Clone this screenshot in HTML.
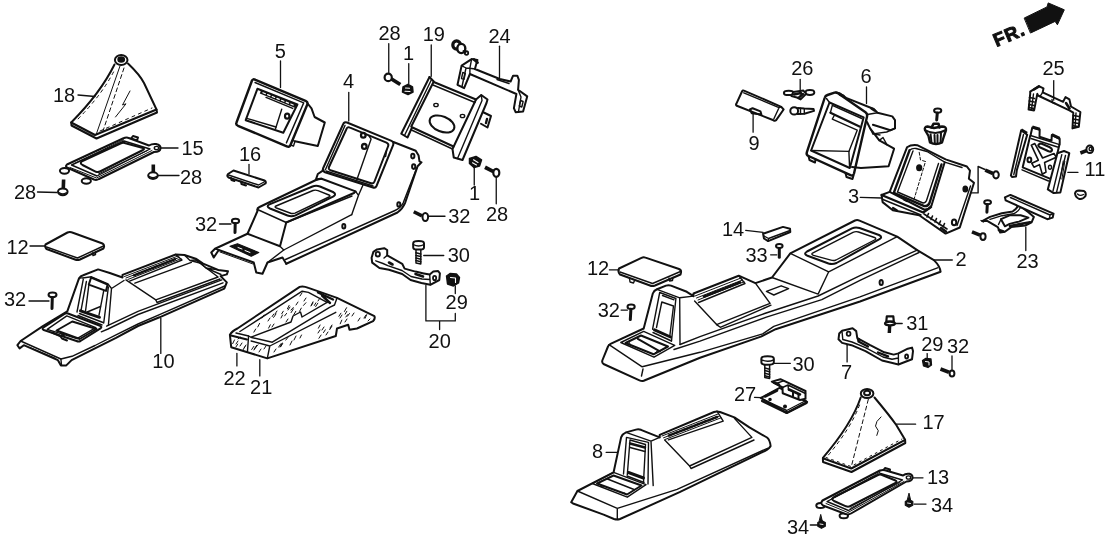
<!DOCTYPE html>
<html><head><meta charset="utf-8">
<style>
html,body{margin:0;padding:0;background:#fff;}
body{width:1108px;height:542px;overflow:hidden;position:relative;font-family:"Liberation Sans",sans-serif;}
svg{position:absolute;left:0;top:0;will-change:transform;}
svg text{font-family:"Liberation Sans",sans-serif;font-size:20px;fill:#111;stroke:none;}
.t{stroke-width:2}
.h{stroke-width:1}
.k{fill:#111}
.w{fill:#fff}
</style></head><body>
<svg width="1108" height="542" viewBox="0 0 1108 542" fill="none" stroke="#111" stroke-width="1.4" stroke-linecap="round" stroke-linejoin="round">
<!-- boot 18 -->
<g id="p18">
<ellipse cx="121.2" cy="60" rx="6.3" ry="5" class="t"/>
<ellipse cx="121.2" cy="59.5" rx="3.2" ry="2.5" class="k"/>
<path class="t" d="M114.5,64.5 Q100.5,93 71.2,122.5"/>
<path class="t" d="M128,63.5 Q140,75 144,83 L156.5,109.5"/>
<path class="t" d="M71.2,122.5 L95,135 L156.5,109.5 L157,112.5 L96.5,138.5 L71.5,125.5 Z"/>
<path class="h" d="M120,66 L96,135"/>
<path class="h" stroke-dasharray="4 3" d="M124,68 L103,131"/>
<path class="h" stroke-dasharray="3 4" d="M113.5,72 Q101,96 76.5,120.5"/>
<path class="h" stroke-dasharray="3 4" d="M100,131 L152,108"/>
<path class="h" d="M130,91 L122.5,105 L126,103.8 L115.5,117"/>
</g>
<!-- frame 15 -->
<g id="p15">
<ellipse cx="64.5" cy="170.8" rx="4.6" ry="2.9" class="t"/>
<ellipse cx="86.3" cy="181" rx="4.6" ry="2.7" class="t"/>
<path class="t w" d="M131,138.5 L133,136 L138,137.5 L137,140.5 Z"/>
<path class="t w" d="M67,164.5 L124,138 Q126,137 128,137.8 L149,145.5 Q152,143.5 156,144 Q161,145 160.5,148.5 Q160,152 154,152 L99,179 Q96.5,180.5 94,179.5 L68,168 Q64.5,166.5 67,164.5 Z"/>
<path d="M71.5,165 L124,141 L150,149 L97,176 Z"/>
<path class="h" d="M75.5,163 L123.5,139.8 M98.5,174 L147.5,150.5 M70,167.5 L96.5,178 L152,150.5"/>
<path class="t" d="M82.5,161 L121,143.3 Q122.5,142.5 124.5,143 L143,148 Q145,148.8 143,150 L100,171.5 Q98,172.5 96,171.8 L82.5,165 Q79,163 82.5,161 Z"/>
<ellipse cx="156.5" cy="148" rx="2.2" ry="1.6"/>
</g>
<!-- bolts 28 near 15 -->
<g id="b28a">
<path stroke-width="3.6" stroke-linecap="butt" d="M153.3,164.5 L153.3,173"/>
<ellipse cx="153" cy="175.6" rx="4.8" ry="3.3" class="t w"/>
<path d="M149.5,176.5 Q153,179 156.5,176.5"/>
<path stroke-width="3.6" stroke-linecap="butt" d="M63.6,179.5 L63.3,189"/>
<ellipse cx="62.8" cy="191.8" rx="4.8" ry="3.4" class="t w"/>
<path d="M59.3,192.8 Q62.8,195.3 66.3,192.8"/>
</g>
<!-- part 16 -->
<g id="p16">
<path class="t" d="M233.5,170.5 L264.5,180.5 Q266.5,181.5 265.5,183.5 L258.5,187.5 L228.5,177.5 Q226.5,176 228,174 Z"/>
<path d="M228.5,175 L258.5,185 L265,181.5"/>
<path class="t" d="M231,178 L231.5,180 L234.5,181 M241,181.5 L241.5,184 L246,185.5"/>
</g>
<!-- screw 32 mid-left -->
<g id="s32a">
<ellipse cx="235.5" cy="221" rx="3.6" ry="2.3" class="t"/>
<path stroke-width="3" d="M235.2,223.5 L235,232.5"/>
</g>
<!-- lid 12 left -->
<g id="p12a">
<path class="t" d="M45.5,244.5 L67.5,232.5 Q69.5,231.5 71.5,232.3 L102.5,243.5 Q104.5,244.5 104,247 L103.5,248.5 L80,259.5 Q77.5,260.5 75,259.5 L46.5,249 Q44.5,247 45.5,244.5 Z"/>
<path d="M46.5,247 L77.5,258 L103.5,246"/>
<path d="M92.5,253 L93,255.5 L95.5,254.5 L95.5,252"/>
</g>
<!-- screw 32 left -->
<g id="s32b">
<ellipse cx="52.5" cy="294.8" rx="4" ry="2.4" class="t"/>
<path stroke-width="3" d="M52.3,297.5 L52,308.5"/>
</g>
<!-- console 10 -->
<g id="p10">
<!-- silhouette -->
<path class="t" d="M17.4,345.2 L20.6,341 L42.9,326.1 L67.3,311.3 L79,278.3 Q80.5,276 83.2,275.2 L98.1,269.4 L109.8,273 L122.5,277.5 L122.5,274.9 L175.7,254.5 L184.4,255 L195.7,258.7 L203.1,263.7 L218.1,269.9 L228,271.2 L226.8,274.4 L220.6,276.1 L226.8,282.4 L224.3,288.6 L159.5,317.3 L138,326 L116,337.8 L95,348.4 L71.6,360.1 L66.3,365.4 L60.9,365.4 L57.8,360.1 L23.8,345.2 L19.6,348.4 Z"/>
<!-- skirt lines -->
<path d="M20.6,341 L60.9,359 L72,356.3 L95,345.5 L116,334.8 L138,324 L159.5,314.7 L224.8,286"/>
<path d="M60.9,359 L61.5,365"/>
<path d="M106.6,326.1 L138,311.3 L221.8,279.9"/>
<path d="M101.3,331.8 L108,329 L138,314.5 L223,282.8"/>
<path d="M134.9,283.2 L191.4,262.4"/>
<path class="h" d="M30,347.5 L56,358.5"/>
<!-- tower -->
<path d="M78.6,279.1 Q80,277.6 82.5,278 L91.5,276.8 L108,284 L111.5,288.5 L124,280.5 M111.5,288.5 L108.4,325.3"/>
<path d="M83.3,279.1 L77,312 M86.4,281.5 L80.9,311.2"/>
<path class="t" d="M91.1,277.5 L107.6,284.6 L106,290.9 L88.8,284.6 Z"/>
<path d="M88.8,285.4 L85.6,310.5 M103.7,290.9 L99,315.2 M108.4,286.9 L103.7,323"/>
<path stroke-width="3" d="M80.5,310.8 L99.5,317.3"/>
<path d="M79.5,313.5 L103,322.5 M78,315.5 L102,325"/>
<path d="M87.2,312 L100.5,306.5"/>
<!-- tray -->
<path class="t" d="M43.5,327.5 L64.5,313.8 Q66,312.8 68,313.5 L100,325.8 Q102.5,327 100.5,328.3 L80.5,341 Q78.6,342 76.5,341 L43.8,330 Q41.5,328.8 43.5,327.5 Z"/>
<path d="M47.2,329.3 L66.8,315.9 L95.8,327.7 L77,338.7 Z"/>
<path class="t" d="M56.5,330.5 L72.3,321.5 L96.5,329 L79.8,339 Z"/>
<path stroke-width="2" d="M52,332.5 L60,336 L62,338.5 L67,340.5 M62,334 L64,336"/>
<!-- ridge and lid -->
<path d="M125.9,279.9 L155.8,299.8 L218.1,277 L195.7,260"/>
<path d="M155.8,299.8 L157,302.5 L220,279"/>
<path d="M129.6,281.1 L182,260 L175.7,254.5"/>
<path class="h" d="M124.5,276.5 L178,256 M126,278 L179.5,257.3 M127.8,279.5 L181,258.7"/>
<path stroke-width="2.4" stroke-dasharray="2.2 1.6" d="M134,275.3 L176,258.8"/>
<path d="M184.4,255 L190,260.5 L195.7,260 M190,260.5 L203.1,263.7"/>
<path d="M197,259.5 L206,268 L221,274.5 M206,268 L218.1,269.9"/>
</g>
<!-- part 5 -->
<g id="p5">
<path stroke-width="2.4" d="M252,80.5 Q252.8,78.5 255.5,79.8 L305.5,100.8 Q308.3,102.3 307.3,104.5 L290.5,145 Q289.5,147.5 286.8,146.3 L238,125.8 Q235.5,124.5 236.5,122.5 Z"/>
<path d="M255,82.5 L303.7,102.9 L286.4,142.9"/>
<path class="t" d="M257.4,88.8 L297.4,104.5 L283.3,132.7 L245.7,120.2 Z"/>
<path stroke-width="3.8" stroke-linecap="butt" d="M260.5,91.8 L296,106.3"/>
<path stroke="#fff" stroke-width="1.2" stroke-dasharray="2.6 2.4" d="M263,92.7 L295,105.8"/>
<path d="M266,97.4 L292.7,108.4"/>
<path d="M281.7,109.2 L275.5,128.8"/>
<ellipse cx="287.2" cy="116.2" rx="2.2" ry="2.5" stroke-width="2.2"/>
<path d="M246.7,118.3 L276,127"/>
<path class="t" d="M307.6,103.5 L311.5,108.4 L314.6,117 L324.8,122.5 L317.8,146 L295,141.3"/>
<path d="M290.5,145 L293.5,146 L295,141.3 L292.5,140.3"/>
</g>
<!-- console 4 -->
<g id="p4">
<path class="t" d="M343,124.5 Q344,121.5 347,122.5 L391.5,140.8 Q394.3,142 393.2,144.8 L376.5,186 Q375.5,188.3 373,187.5 L325,172.2 Q322,171 323,168.5 Z"/>
<path class="t" d="M346.5,129 Q347.5,126.5 350,127.6 L386.5,142.6 Q389,143.8 388.2,146 L374.5,181.5 Q373.5,184 371,183.2 L330.5,170.2 Q328,169.3 329,167 Z"/>
<path d="M345,125.5 L325.5,169.5"/>
<path d="M326,171 L373,186"/>
<path d="M369.1,136.2 L371.1,139.1 L356.5,180.8"/>
<path d="M386.6,150.7 L385.6,156.5"/>
<ellipse cx="363.3" cy="135.2" rx="2.3" ry="2.4" stroke-width="2.3"/>
<ellipse cx="364.3" cy="146.4" rx="2.3" ry="2.4" stroke-width="2.3"/>
<!-- right side panel -->
<path class="t" d="M393.4,142 L415.7,150.7 L418.6,155.6 L419.5,161.4 L421.5,162.3 L417.6,166.2 L405,203.1 Q402.5,209 397.5,212.5 L286.25,263.75"/>
<path d="M416.6,168.2 L403.1,203.1 Q400.5,208 395,210.5 L285.5,259.5"/>
<ellipse cx="412.8" cy="156.1" rx="1.6" ry="2.3" class="t"/>
<ellipse cx="413.7" cy="166.6" rx="1.6" ry="2.3" class="t"/>
<ellipse cx="398.8" cy="204.4" rx="1.5" ry="2.2" class="t"/>
<ellipse cx="343.8" cy="226.3" rx="1.5" ry="2.2" class="t"/>
<!-- frame to box -->
<path class="t" d="M323.6,170.1 L317.8,174 L315.8,179.8 L321.6,178.8"/>
<path d="M355.6,191.4 L358.5,195.3 L351.7,214.7 M363,185 L358.5,195.3"/>
<!-- box -->
<path class="t" d="M321.6,178.8 Q319.5,178.3 317,179.5 L259.5,207 Q256.5,208.5 257.5,211 L247.5,233.75 L280,246.25 L286.25,222.5 L354,193 L355.6,191.4 Z"/>
<path d="M257.5,209.5 L286.25,222.5"/>
<path class="t" d="M269.5,204.3 L312.5,186.5 Q316,185.2 320,186.5 L333,192 Q337,194.2 333.5,196.3 L295.5,215.3 Q291.5,217 287.5,215.5 L270,208.5 Q265.5,206.3 269.5,204.3 Z"/>
<path d="M276,206 L313,190.5 Q315.5,189.8 318,190.6 L329,195 Q331,196 329,197 L295,213.2 Q292.5,214 290,213 L276.5,208 Q274,207 276,206 Z"/>
<path d="M351.7,214.7 L283.75,250"/>
<path d="M286.25,222.5 L352,196"/>
<!-- front panel -->
<path class="t" d="M247.5,233.75 L215,248.75 L211.25,252.5 L213.75,257.5 L218.75,250 L253.75,262.5 L256.25,272.5 L262.5,273.75 L267.5,262.5 L282.5,257.5 L286.25,263.75"/>
<path d="M280,246.25 L283.75,250 L267.5,262.5 M215,248.75 L218.75,250"/>
<path class="h" d="M220,252 L253,264"/>
<path class="k" stroke-width="1.2" d="M230,246.25 L237.5,243.75 L258.75,252.5 L251.25,256.25 Z"/>
<path stroke="#fff" stroke-width="1" d="M238,247.5 L242,249 M245,250.5 L250,252.5"/>
</g>
<!-- bracket 19 -->
<g id="p19">
<path class="t" d="M429.5,77 L401.25,133.75 L407.5,137.5 L412,127.5"/>
<path class="t" d="M429.5,77 L433.75,81.5 L411.25,126.5"/>
<path d="M431.5,79.5 L404.5,135.5"/>
<path class="t" d="M433.75,82 L476,99.5"/>
<path d="M433,85 L475,102.5"/>
<path class="t" d="M476,99.5 L481.25,95 L487.5,99.5 L486.5,103 L462.5,160 L453.75,157.5 L452.5,149 Z"/>
<path d="M481.25,95 L482,100.5 L457.5,158.5"/>
<path class="t" d="M412.5,127.5 L453.5,146.5"/>
<path d="M411.5,130 L452.5,149"/>
<ellipse cx="442" cy="124" rx="13" ry="7.6" transform="rotate(22 442 124)" class="t"/>
<ellipse cx="436" cy="105" rx="2.2" ry="1.6"/>
<ellipse cx="462.5" cy="116" rx="2.2" ry="1.6"/>
<path class="t" d="M483.75,112.5 L491,116 L487.5,127.5 L481,123.75"/>
<path stroke-width="2.4" d="M487,119 L486,123"/>
</g>
<!-- bracket 24 -->
<g id="p24">
<path class="t" d="M461.6,65.7 L471.6,59.1 L477.4,59.9 L474.9,69 L499.8,79 L510.6,81.5 L513.1,75.7 L517.3,75.7 L518.9,79.8 L518.1,89.8 L527.2,96.4 L523.1,111.4 L515.6,112.2 L513.9,108.1 L516.4,94 L469.9,74 L464.1,88.1 L457.5,84.8 Z"/>
<path d="M461.6,65.7 L466,68 L469.9,68.2 L471.6,59.1 M466,68 L462,86.5 M518.1,89.8 L521,97 L518.5,111.5 M469.9,74 L469.9,68.2 L474.9,69"/>
<path d="M462.8,72.5 L461.5,78.5 L464,79.3 L465.3,73.3 Z M520.6,100.5 L519.3,106 L521.8,107 L523.1,101.5 Z"/>
<path stroke-width="2.8" d="M474,59.5 L477.5,62.5"/>
<path d="M497,79.5 L509,83.5"/>
</g>
<!-- bolt above 24 -->
<g id="b24">
<ellipse cx="456.6" cy="45" rx="3.8" ry="4.2" stroke-width="3.2" class="w"/>
<ellipse cx="461.3" cy="48.5" rx="4" ry="4.6" stroke-width="2.4" class="w"/>
<ellipse cx="466.5" cy="53" rx="1.7" ry="1.9" stroke-width="1.8"/>
<path stroke-width="2" d="M463.5,51 L465.5,52.3"/>
</g>
<!-- bolt 28 top + clip 1 top -->
<g id="b28t">
<ellipse cx="388.2" cy="77.4" rx="3.6" ry="3.8" stroke-width="2.2"/>
<path stroke-width="3.8" stroke-linecap="butt" d="M391.5,79 L400.3,84.5"/>
<path class="k" stroke-width="1.5" d="M403,87 L408,84.3 L412.5,87 L413,92 L408,94.5 L402.5,92 Z"/>
<path stroke="#fff" stroke-width="1.1" d="M405.5,88 L409.5,88.3 M405,91.3 L410,91.5"/>
</g>
<!-- clip 1 lower + bolt 28 lower -->
<g id="b28l">
<path class="k" stroke-width="1.5" d="M469.5,158.5 L476,156.5 L481.5,160 L479.5,166 L474,167.5 L469.5,163.5 Z"/>
<path stroke="#fff" stroke-width="1.1" d="M473.5,159.8 L478,162.5 M472.5,162.8 L476.5,165"/>
<path stroke-width="3.8" stroke-linecap="butt" d="M485,167.3 L493.5,171.6"/>
<ellipse cx="496.3" cy="172.8" rx="3" ry="4" stroke-width="2.2" class="w"/>
</g>
<!-- screw 32 right of 4 -->
<g id="s32c">
<path stroke-width="3.6" stroke-linecap="butt" d="M413.75,211.75 L422,215.8"/>
<ellipse cx="425.3" cy="217" rx="2.8" ry="4" class="t w"/>
</g>
<!-- bolt 30 left -->
<g id="b30a">
<path class="t w" d="M413.2,243.2 Q413.2,241 418.6,241 Q424,241 424,243.2 L424,247.4 Q424,249.6 418.6,249.6 Q413.2,249.6 413.2,247.4 Z"/>
<path d="M413.2,244.5 Q418.6,247.5 424,244.5"/>
<path stroke-width="1.5" d="M416,250 L416,263 L420.8,263.9 L420.8,250"/>
<path stroke-width="1.5" d="M416,252.8 L420.8,254 M416,255.4 L420.8,256.6 M416,258 L420.8,259.2 M416,260.6 L420.8,261.8"/>
</g>
<!-- bracket 20 -->
<g id="p20">
<path class="t" d="M373.4,251.8 L377,249.4 L384.2,248.2 L387.2,250 L387.2,255.4 L402.2,263.8 L404.6,268.6 L415.4,271.6 L423.8,273.4 L429.7,274.6 L433.3,271.6 L438.1,271 L439.9,273.4 L439.3,280 L430.3,284.8 L421.4,283 L410.6,280 L402.2,274 L389,269.8 L379.4,268 L372.2,262.6 L371.6,257.8 Z"/>
<path d="M375.8,260.8 L383,263.5 L387.8,265.6 L402,270.5 L411,276.5 L422,279 L429.7,279.5 M429.7,274.6 L430.3,284.8"/>
<path d="M384,258 L387.2,255.4"/>
<ellipse cx="377.8" cy="254.2" rx="2.1" ry="2.3" stroke-width="1.8"/>
<ellipse cx="434.6" cy="278" rx="1.6" ry="2.2" stroke-width="1.8"/>
<path stroke-width="2.6" d="M415.5,274 L423,276.5 M389,262.5 L392.5,264.5"/>
</g>
<!-- nut 29 -->
<g id="n29a">
<path class="k" stroke-width="1.4" d="M446.5,276 L450,273.5 L456.5,274 L459.5,277.5 L458.5,283 L453.5,286 L447.5,284 Z"/>
<path stroke="#fff" stroke-width="1.1" d="M450.5,277.5 L455.5,278 L455.5,282.5"/>
</g>
<!-- part 21/22 -->
<g id="p21">
<path class="t" d="M299.7,286.9 Q303,285.5 308.4,287.9 L337,297.9 L374.4,316.1 Q375.5,318.5 373.1,321.1 L357,328.5 L349.5,329.8 L348.2,324.8 L337,328.5 L335.8,336 L267.3,358.4 L247.4,352.2 L231.2,347.2 L229.9,334.8 Q232,331 237.4,328.5 Z"/>
<path d="M239.9,331.5 L302.2,291.2 L308.4,292.4 L327.1,302.4"/>
<path d="M236,333 L248.6,336 L251.5,337.5 L272.3,342.2 L329.6,307.4 L334.5,305 L337,297.9"/>
<path d="M248.6,336 L247.4,352.2 M251.1,341 L269.8,346 L267.3,358.4 M269.8,346 L335.8,312.3"/>
<path d="M251.1,337.2 L291,322 L293,316 L300.5,312 L302,317 L327.1,302.4"/>
<path stroke-width="2.4" d="M318,292.5 L333,299.5 M322,295.5 L330,303"/>
<path stroke-width="2" d="M231,335.5 L247,339.5"/>
<path stroke-width="1" d="M287.5,308.7 l1.6,-3.2 M290.9,310.1 l2.4,-2.6 M314.3,305.5 l1.6,-2.7 M268.6,328.1 l1.7,-3.3 M299.5,311.4 l1.8,-3.3 M303.5,305.4 l2.4,-2.7 M315.7,306.5 l2.1,-3.3 M291.1,312.6 l2.3,-3.7 M311.2,305.2 l1.8,-3.4 M273.6,317.4 l2.4,-3.4 M281.7,313.8 l1.6,-2.6 M257.8,326.9 l1.8,-3.5 M272.1,316.6 l1.6,-2.5 M253.9,332.1 l1.8,-3.1 M284.6,315.9 l2.0,-2.5 M293.8,314.7 l2.0,-3.4 M285.8,340.1 l2.1,-2.7 M340.2,323.8 l1.6,-3.7 M347.5,316.2 l2.0,-2.7 M278.6,347.1 l2.3,-3.4 M318.4,328.2 l1.7,-3.2 M329.7,329.6 l2.2,-3.4 M280.7,346.8 l2.0,-3.3 M345.2,314.1 l1.6,-2.8 M344.4,311.5 l2.2,-3.8 M318.9,338.3 l2.2,-3.3 M345.8,317.0 l2.0,-2.5 M338.9,316.3 l2.0,-3.1 M280.4,346.7 l1.8,-3.7 M323.5,332.6 l1.8,-2.8 M365.0,318.4 l1.7,-3.7 M232.7,343.6 l1.8,-3.7 M243.2,349.6 l1.8,-2.9 M235.9,347.0 l1.8,-2.9 M254.2,349.1 l2.4,-3.7 M255.8,347.4 l2.2,-2.6 M251.7,349.5 l2.1,-3.1"/>
<g class="h">
<path d="M262,318 l2,-3 M268,321 l2,-3 M275,314 l2,-3 M281,318 l1.5,-3 M288,310 l2,-3 M296,305 l2,-3 M304,301 l2,-3 M311,306 l2,-3 M318,301 l2,-3 M300,296 l2,-3 M286,322 l2,-3 M272,327 l2,-3"/>
<path d="M236,344 l2,-3 M240,346 l2,-3 M244,348 l2,-3 M238,339 l2,-2 M254,350 l2,-3 M259,352 l2,-3 M264,349 l2,-3 M274,352 l2,-3 M280,347 l2,-3"/>
<path d="M290,345 l2,-4 M294,340 l2,-4 M318,333 l2,-3 M322,330 l2,-3 M326,335 l2,-3 M330,328 l2,-3 M340,318 l2,-3 M345,322 l2,-3 M352,316 l2,-3 M358,321 l2,-3 M364,318 l2,-3 M368,321 l2,-2 M300,338 l1.5,-3"/>
</g>
</g>
<!-- part 9 -->
<g id="p9">
<path class="t" d="M742,91.5 Q742.6,90 744.5,90.8 L781.3,106.8 L783.6,109.5 L776,120.3 Q775,121.3 773.5,120.3 L736.8,105.8 Q735.6,105 736.3,103.8 Z"/>
<path d="M743.8,92.8 L779,107.7 L773.9,118.7 M779,107.7 L781.3,106.8"/>
<path class="t" d="M749.9,109.5 L752.6,108.2 L760.5,111.4 L761.4,114.6 L751.8,113.2 Z"/>
</g>
<!-- clip 26 + bulb -->
<g id="p26">
<ellipse cx="788.7" cy="92.9" rx="4.8" ry="2.2" class="t"/>
<ellipse cx="809.9" cy="92.5" rx="4.4" ry="2.4" class="t"/>
<path class="t w" d="M791.4,96.1 L793.3,92 L803.4,90.6 L806.2,93.8 L800.6,99.4 L797,97.5 Z"/>
<path stroke-width="2.4" d="M794,94.5 L801,93 M799,97.5 L803,94"/>
<ellipse cx="794.2" cy="110.9" rx="3.9" ry="3.6" class="t"/>
<path class="t" d="M797.9,108.1 L804.3,108.6 L813.6,109.1 L814,110.9 L804.3,113.7 L797.9,114.1"/>
<path d="M800.5,108.3 L800.5,114 M804.3,108.6 L804.3,113.7"/>
</g>
<!-- part 6 -->
<g id="p6">
<path stroke-width="2.4" d="M824.8,97.5 Q825.3,95.8 827.5,95 L834.5,92.6 Q836.3,92.2 838,93.3 L865.5,112.3 Q867.8,114 867,116.8 L854,173.5 Q853.2,176.3 850.5,175.2 L808.5,156 Q806,154.8 806.8,152.3 Z"/>
<path class="t" d="M829.5,102.5 L863.7,117.3 L849.8,168 L811.1,150.5 Z"/>
<path d="M826.5,98.5 L829.5,102.5 M832.3,105.3 L861.8,118.5 M832.3,105.3 L830.4,112.7"/>
<path stroke-width="2.2" d="M830.4,112.7 L859.5,126.5"/>
<path d="M832.3,119.1 L857.2,130.2 L848.9,151.4 M834.5,115 L832.3,119.1"/>
<path d="M811.1,150.5 L848.9,151.4 M848.9,151.4 L849.5,166"/>
<path class="t" d="M808.5,156 L809.5,160 L815,162.5 L815.5,159.5 M845.5,173 L846.5,177 L852.5,179 L853.5,175.5"/>
<path class="t" d="M836,92.4 L839.7,93.3 L846.1,97.9 L873.8,109 L877.5,112.7 L892.3,116.4 L895,120.1 L895,128.4 L890.4,130.2 L872.9,124.7"/>
<path stroke-width="2.6" d="M840,94.5 L843.5,96 M871.5,108.5 L874.5,110.5"/>
<path d="M867.3,114.5 L877.5,112.7 M895,128.4 L886.7,132 L872.9,133.9"/>
<path class="t" d="M867,122 L870.1,128.4 L879.3,140.4 L894.1,148.7 L888.6,166.2 L860.9,168 L852,167"/>
<path d="M870.1,128.4 L872.9,133.9 L880,135 M879.3,140.4 L883,137.5 L887,144.8"/>
</g>
<!-- screw + nut above part 3 -->
<g id="s3top">
<ellipse cx="937.7" cy="110.6" rx="3.6" ry="2.2" class="t"/>
<path stroke-width="3" d="M937.3,113 L936.7,119.9"/>
<path stroke-width="2.4" class="w" d="M925,130 Q924,127 927.5,126.5 L934,128 L942,126.5 Q946.5,126.5 946,130 L944,136 L942,142.5 Q936,145.5 930,142.5 L928.5,136 Z"/>
<path stroke-width="2" d="M925,130 Q935,136 946,130 M930.5,133.5 L931.5,142.5 M941,133.5 L940.5,143"/>
<path stroke-width="2.6" d="M931.5,127.5 L933.5,123.8 L938.5,123.8 L939.5,127.5"/>
<path stroke-width="2" d="M934.5,135 L934.8,143 M937.5,135 L937.5,143"/>
</g>
<!-- part 3 -->
<g id="p3">
<path class="t" d="M907,147.3 Q911,144.5 917.2,145.2 L945.6,159.4 L966.9,166.5 L970,170.6 L968.9,178.7 L974,182.8 L959.8,227.5 L945.6,233.6 L919.2,215.3 L892.8,210.2 L882.6,202.1 L881.6,195 L889.7,191.9 Z"/>
<path d="M909.5,150.3 Q912,148 916,148.5 L927,151.5 L944.7,162.2 L962,167.5"/>
<path stroke-width="2.4" d="M909.5,150.3 L893.8,192.9 L924.3,206.1 Q928,206.5 929.5,203 L941.5,164.5"/>
<path d="M913,151 L897.5,192 L923,203 Q925.5,203 926.5,200.5 L938.5,163.5"/>
<path stroke-width="2" d="M944.7,162.2 L931.5,205.5 Q929,210 924,209.5 L889.7,191.9"/>
<path stroke-width="2.4" d="M881.6,195 L923.2,212.5 L931,207"/>
<path d="M883,199.5 L921,215"/>
<path class="h" stroke-dasharray="3 2" d="M919.2,152.3 L920.5,160 L925.5,161.5 L914.1,199"/>
<ellipse cx="919.2" cy="167.8" rx="2.4" ry="2.8" class="k"/>
<ellipse cx="965.3" cy="188.9" rx="2.2" ry="2.8" class="k"/>
<ellipse cx="954.1" cy="222.4" rx="2.2" ry="2.8" class="t"/>
<path d="M970.5,186 L957,225.5"/>
<path stroke-width="2.2" d="M893,208 L897,210.5 M904,199.5 l3,1.5"/>
<path stroke-width="1.6" d="M924,214 L947,229 M928.5,213.5 l-1.5,3.5 M932.5,216 l-1.5,3.5 M936.5,218.5 l-1.5,3.5 M940.5,221 l-1.5,3.5 M944.5,223.5 l-1.5,3.5"/>
<path stroke-width="2.4" d="M941,228 L946,231.5"/>
</g>
<!-- bracket line + screw -->
<g id="s3r">
<path d="M971,192.9 L978.1,192.9 L978.1,166.5 L985,169.5"/>
<path stroke-width="3.6" stroke-linecap="butt" d="M985.2,170.2 L993,173.5"/>
<ellipse cx="996" cy="174.8" rx="2.8" ry="3.6" class="t w"/>
</g>
<!-- part 11 -->
<g id="p11">
<!-- left rail -->
<path class="t" d="M1021.2,130.3 L1027.2,134.8 L1016.8,170.2 L1016,176.5 L1012,177 L1010.9,175.4 Z"/>
<path d="M1023.5,134.5 L1013.8,174.5"/>
<path stroke-width="3" stroke-linecap="butt" d="M1021.2,129.8 L1027,133.3"/>
<!-- plate -->
<path class="t" d="M1030.1,136.2 L1022.7,167.3 L1049.3,178.3"/>
<path d="M1022,169.8 L1048.5,181"/>
<path class="t" d="M1030.5,135.5 L1032.3,127.5 L1039.7,129.5 L1039.5,136.8 L1051.5,140.8 L1051.8,135 L1059.7,138.8 L1059.7,143.6 L1057.4,153.2"/>
<path d="M1030.5,135.5 L1059.7,144.6 M1031,138.5 L1057.5,147"/>
<path stroke-width="3" stroke-linecap="butt" d="M1032.3,127 L1039.7,129.2 M1051.8,134.5 L1059.7,138.3"/>
<!-- right rail -->
<path class="t" d="M1057.4,153.2 L1064,151 L1069.3,153.2 L1060.4,192.4 L1053.7,193.1 L1047.8,189.4 Z"/>
<path d="M1061.8,154.7 L1053,191 M1065.5,155.5 L1056.7,191.6"/>
<path class="h" d="M1064.8,161.4 L1061.9,179.1 M1063.2,161 L1060.3,178.5"/>
<!-- X -->
<path stroke-width="1.6" d="M1031.3,145.2 L1034.8,143.6 L1042.6,158 L1054,153.5 L1056.3,157.3 L1044.6,162.5 L1046,172 L1042.3,174.2 L1039.5,164.6 L1034,167.2 L1031.8,163.3 L1038.3,160.2 Z"/>
<path stroke-width="2.2" d="M1039.5,143.8 Q1037,145.5 1039.8,147.3 L1048.5,151.3 Q1051.8,152.2 1052,149.8 Q1052,148.3 1049.3,147 L1041.8,143.8 Q1040.5,143.3 1039.5,143.8 Z"/>
<ellipse cx="1029.4" cy="159.9" rx="1.9" ry="2.3" stroke-width="2"/>
<ellipse cx="1050" cy="167.3" rx="1.5" ry="2"/>
</g>
<!-- screws/nuts right of 11 -->
<g id="s11">
<path stroke-width="3.6" stroke-linecap="butt" d="M1080.4,153 L1086.5,150.6"/>
<ellipse cx="1089.8" cy="149.3" rx="3.4" ry="3.8" class="t w"/>
<ellipse cx="1090.5" cy="149" rx="1.4" ry="1.8"/>
<path class="t" d="M1075,193.5 Q1075.5,190.5 1079,190.5 L1084,191 Q1086.5,192.5 1085.5,196 Q1083,199.5 1079.5,199 Q1075.5,197.5 1075,193.5 Z"/>
<path d="M1077.5,194 Q1080,196.5 1083.5,194.5"/>
</g>
<!-- bracket 25 -->
<g id="p25">
<path class="t" d="M1030.2,91.6 L1038.8,86.1 L1043.5,88.4 L1042.7,92.4 L1063.1,101.8 L1065.5,97.1 L1069.4,99.4 L1071,106.5 L1080.4,112 L1078.8,126.9 L1072.5,128.4 L1073.3,112.7 L1069.4,110.4 L1038,95.5 L1037.3,93.9 L1034.1,110.4 L1028.6,109.6 L1030.2,93.9 Z"/>
<path d="M1033.5,94 L1031.5,109.5 M1076,113 L1075,127.5"/>
<path stroke-width="1.6" d="M1029.5,97.5 l5,1 M1029.2,101 l5,1 M1029,104.5 l5,1 M1028.8,107.5 l5,1 M1073.2,115.5 l6,1 M1073,119 l6,1 M1073,122.5 l5.5,1 M1072.8,125.8 l5.5,0.8"/>
<path stroke-width="2.6" d="M1034,89.5 L1039,86.5 M1066,103 L1069.5,108.5"/>
<path d="M1052,99.5 L1052.5,102.5 L1055,103.5 M1042.7,92.4 L1040,96.3"/>
</g>
<!-- part 23 -->
<g id="p23">
<path class="t" d="M982.2,221.1 L990,216.9 L1001.8,213.3 L1012.7,211.4 Q1016.5,209.5 1018.2,205.1 M1022,207.5 L1028.4,212.2 L1033.9,216.9 L1031.6,222.4 L1025.3,225.5 L1011.2,227.1 L1004.9,231.8 L1000.2,232.5 L997.8,227.1 L987.6,221.1 L982.2,221.1"/>
<path d="M990,219.3 L1002,215.7 L1013.5,213.8 Q1018,212 1020.5,207.5"/>
<path class="t" d="M1001,219.2 L1009.6,215.3 L1020.6,215.3 L1028.4,217.6 L1019,221.6 L1009.6,223.9 L1004.9,226.3 Z"/>
<path stroke-width="2.6" d="M1010,226 L1030,222.3 M999,230 L1003.5,231.5"/>
<path d="M1001,219.2 L998.5,224.5"/>
<path class="t w" d="M1004.9,197.3 L1010.4,194.9 L1053.5,213.7 L1052.7,217.6 L1047.3,219.2 L1005.7,200.4 Z"/>
<path d="M1010.4,197.5 L1050,215 L1053.5,213.7 M1050,215 L1049.5,218.5"/>
<path d="M983.5,222 L981,220.5"/>
</g>
<!-- screws near 23 -->
<g id="s23">
<ellipse cx="987.6" cy="202.2" rx="3.4" ry="2" class="t"/>
<path stroke-width="3" d="M987.3,204.5 L986.9,212.2"/>
<path stroke-width="3.6" stroke-linecap="butt" d="M972,231.8 L980,235.2"/>
<ellipse cx="983" cy="236.6" rx="2.6" ry="3.4" class="t w"/>
</g>
<!-- FR arrow -->
<g id="fr">
<path class="k" stroke-width="1" d="M1024.5,17.9 L1047,6.9 L1048.2,2.9 L1064.3,9.8 L1057.4,24.8 L1055.1,21.4 L1030.8,32.9 Z"/>
<text x="0" y="0" transform="translate(996.5,47) rotate(-23)" style="font-weight:bold;font-size:18.5px;letter-spacing:1px;stroke:#111;stroke-width:1px;stroke-linejoin:round">FR.</text>
</g>
<!-- part 14, screw 33 -->
<g id="p14">
<path class="t" d="M763.1,233.7 L783,226.9 L790,228.7 L790.3,232 L768.1,241.1 L764,238.5 Z"/>
<path d="M764,236 L768.5,238.5 L790,230.5 M768.5,238.5 L768.1,241.1"/>
<ellipse cx="779.3" cy="246" rx="3.3" ry="2" class="t"/>
<path stroke-width="3" d="M779.3,248.5 L779.3,257.3"/>
</g>
<!-- lid 12 right -->
<g id="p12b">
<path class="t" d="M619,268.5 L641.5,257.8 Q643.5,256.8 645.5,257.6 L679,269 Q681.5,270 681,272.5 L680.5,274.5 L655,285.5 Q652.3,286.5 650,285.5 L620,274.5 Q617.5,272 619,268.5 Z"/>
<path d="M620,272 L652.5,283.5 L680.5,271.5"/>
<path d="M629.5,278.5 L630,282 L633.5,283 L634.5,280.5 M669,278 L669.5,281 L672.5,280.5 L673,277.5"/>
</g>
<!-- screw 32 right-left -->
<g id="s32d">
<ellipse cx="631.1" cy="306.8" rx="3.6" ry="2.2" class="t"/>
<path stroke-width="3" d="M630.9,309.3 L630.3,319.6"/>
</g>
<!-- console 2 -->
<g id="p2">
<path class="t" d="M603.5,364 Q601.5,362.5 602.5,360 L608,346.5 Q608.5,344.8 610.5,343.8 L643.7,328.5 L652.8,293.5 Q654,290.5 657,289.3 L666,285.6 Q668.5,284.8 671,285.6 L686.8,291.8 L693.5,296.1 L693.5,293.5 L738.7,275.7 L755.4,283.1 L772,277.5 L790.3,253.4 L855,220.5 Q857.1,219.6 859.5,220.6 L897.2,236.7 L917.2,250.1 L933.9,260.1 Q940,266 940.6,271.8 L860,301.5 L775.6,329.2 L760.9,336.6 L700,357.8 L643.7,380.8 Q641.5,381.3 639.5,380.3 Z"/>
<!-- box -->
<path d="M790.3,253.4 L828.7,271.8 L897.2,236.7 M828.7,271.8 L818.1,294.1 L772,277.5"/>
<path class="t" d="M807,251.5 L852,228.3 Q855.5,226.8 859.5,228 L879,235 Q883,237 879.5,239.2 L836.5,263 Q832.5,264.8 828.5,263.5 L807.5,255.8 Q803,253.8 807,251.5 Z"/>
<path d="M813,252.8 L853,232.3 Q855.8,231.2 858.5,232 L874.5,237.5 Q877,238.5 874.5,240 L836,260 Q833.5,261 831,260.2 L813.5,255.3 Q810.5,254.2 813,252.8 Z"/>
<!-- surface lines -->
<path d="M917.2,250.1 L860,275.7 L818.1,296 L764.6,313.5 L700,336.6 L680,344.5"/>
<path d="M919,252.5 L860,280.3 L821.8,299.7 L766.4,317.2 L700,341.2 L674,349.5"/>
<path d="M937.5,267.8 L860,296.9 L773.8,326.4 L762.7,333.8 L700,352.3 L642.2,366.8 L609,344.7 M643,369 L641.5,376"/>
<ellipse cx="881.2" cy="282.5" rx="1.6" ry="2.6" class="t"/>
<!-- tower -->
<path d="M657,289.3 L679.7,297.8 L693.5,296.1 M679.7,297.8 L680,344.5"/>
<path d="M659.7,292.5 L675.9,298.5 L671.5,341 M659.7,292.5 L652.6,329.2"/>
<path d="M661.8,302 L673.5,306 L669.8,336 M661.8,302 L656.5,327.5"/>
<path d="M662.5,295.5 L674,299.8"/>
<path stroke-width="3" d="M654.5,329.8 L670.5,337"/>
<path d="M653,332.5 L671.5,341"/>
<!-- ridge lid -->
<path d="M694.6,300.9 L716.6,324.6 L770.1,303.4 L755.4,283.1"/>
<path d="M716.6,324.6 L720.3,327.3 L771,305.2"/>
<path d="M698.5,302.5 L745,283.5 L738.7,275.7"/>
<path class="h" d="M695,296 L741,278 M696.5,298 L742.5,280 M698,300 L744,281.8"/>
<path stroke-width="2.6" stroke-dasharray="2.2 1.6" d="M704,296.5 L740,282.3"/>
<path d="M766.4,291.4 L781.2,285.8 L788.6,288.6 L773.8,295 Z"/>
<!-- tray -->
<path d="M620.8,342.5 L643.7,331.4 L674.7,345.4 L654,357.2 Z"/>
<path class="t" d="M625.5,343 L641,335.5 L668,346.5 L653.5,354.3 Z"/>
<path class="t" d="M637.8,338.8 L659.9,351.3"/>
<path class="h" d="M629,342 l1,2 M655,353 l1.5,-1.5"/>
</g>
<!-- bolt 30 right -->
<g id="b30b">
<path class="t w" d="M761.4,358.5 Q761.4,356.3 767.6,356.3 Q773.8,356.3 773.8,358.5 L773.8,362.5 Q773.8,364.8 767.6,364.8 Q761.4,364.8 761.4,362.5 Z"/>
<path d="M761.4,359.8 Q767.6,362.8 773.8,359.8"/>
<path stroke-width="1.5" d="M764.8,365.2 L764.8,377.5 L769.6,378.4 L769.6,365.2"/>
<path stroke-width="1.5" d="M764.8,368 L769.6,369.2 M764.8,370.6 L769.6,371.8 M764.8,373.2 L769.6,374.4 M764.8,375.8 L769.6,377"/>
</g>
<!-- part 27 -->
<g id="p27">
<path class="t" d="M760.8,398 L779.6,387.8 L807.1,402 L786.7,412.9 Z"/>
<path d="M763,399.5 L786.7,410.5 L806,400.5 M786.7,410.5 L786.7,412.9"/>
<path stroke-width="2.2" d="M762,401 L786.7,412.9 L806.5,403"/>
<path class="t w" d="M771.8,381.6 L780.4,379.2 L805.5,391 L805.5,398.8 L800,400 L782.7,393.3 L782.5,387.5 Z"/>
<path d="M782.5,387.5 L788,385 L805.5,393.5 M776,383.5 L783.5,380.8 M788,385 L788.5,390"/>
<path stroke-width="2.6" d="M789,389.5 L800,394.5 M765,396.5 L777,390.5 M774,382.5 L779,384.8"/>
<path stroke-width="2" d="M793,392 L793,396.5 M798.5,394.5 L798.5,399"/>
<ellipse cx="785" cy="406.5" rx="1.3" ry="1.3" class="k"/>
<ellipse cx="770" cy="399.5" rx="1.1" ry="1.1" class="k"/>
</g>
<!-- bracket 7 -->
<g id="p7">
<path class="t" d="M839.2,333.5 L842.1,330.7 L852.6,328.3 L856.2,331.1 L857.3,338.2 L870.2,345.2 L884.3,352.3 L893.7,354.6 L898.4,353.4 L907.8,348.7 L912,347.6 L913,351.1 L912,359.3 L898.4,364.5 L891.4,362.8 L882,360.5 L865.5,351.1 L851.5,345.2 L842.1,342.9 L838.5,339.3 Z"/>
<path d="M842.1,332.3 L842.8,339.5 L852,342 L866,347.8 L883,357 L892,359.2 L898.4,358 L898.4,364.5 M898.4,353.4 L898.4,358"/>
<ellipse cx="848.6" cy="333.7" rx="1.9" ry="2.1" stroke-width="1.8"/>
<ellipse cx="906.6" cy="356.5" rx="1.5" ry="2" stroke-width="1.8"/>
<path stroke-width="2.4" d="M858.5,341.5 L868,346.5 M878,352.5 L888,356.3"/>
<ellipse cx="858.5" cy="339.5" rx="1" ry="1" class="k"/>
</g>
<!-- bolt 31 -->
<g id="b31">
<path stroke-width="2.2" class="w" d="M886.8,316.3 L893.3,316.3 L893.8,321.5 L886.3,321.5 Z"/>
<ellipse cx="890" cy="323.5" rx="5" ry="1.9" stroke-width="2.2" class="w"/>
<path stroke-width="3.4" stroke-linecap="butt" d="M889.7,325.5 L889.3,333"/>
</g>
<!-- nut 29 right + screw 32 far right -->
<g id="n29b">
<path class="k" stroke-width="1.3" d="M922.5,360.5 L925.5,358.5 L931,359 L931.5,365 L928,367.5 L923.5,366 Z"/>
<path stroke="#fff" stroke-width="1" d="M925.5,361.5 L929,362 L929,365"/>
<path stroke-width="3.6" stroke-linecap="butt" d="M940.5,369 L949,372.3"/>
<ellipse cx="952" cy="373.5" rx="2.4" ry="3" class="t w"/>
</g>
<!-- console 8 -->
<g id="p8">
<path class="t" d="M571.2,502.2 L577.4,491 L613.6,472.3 L621.1,437.4 Q622.5,433.8 626,432.4 L636,429.6 Q638.5,429 641,429.8 L647.2,432.4 L659.7,437.4 L659.7,434.9 L714,412 Q717,411 720,412 L734.4,417.4 L749.4,427.4 L767,437.5 Q770,440 770.6,446.1 Q768,450 761.8,452.3 L679.6,492.2 L620,519 Q617.3,520 614,519 L603.6,514.6 L573,503.5 Z"/>
<path d="M577.4,491 L617.3,508.4 L677.1,489.3 L767.5,448.3 M617.3,508.4 L617.3,519.6"/>
<!-- tower -->
<path d="M626,432.4 L651,441.1 L659.7,437.4 M651,441.1 L653.2,485.6"/>
<path d="M626.5,437.4 L648.5,442.4 L648,484 M626.5,437.4 L623.5,474"/>
<path d="M630,440 L645.5,444.5 L643.5,482.2 M630,440 L627.3,474.8"/>
<path d="M630,447.5 L645,451.5"/>
<path stroke-width="2.4" d="M630,443.5 L645,447.5"/>
<path stroke-width="3" d="M628.5,472.5 L643.5,478"/>
<path d="M627,476 L644,482.5"/>
<!-- lid -->
<path d="M664.7,439.9 L689.6,466 L751.9,437.4 L734.4,418.4"/>
<path d="M689.6,466 L691,468.5 L754,440"/>
<path d="M668.4,439.9 L723.2,421.2 L717,411.2"/>
<path class="h" d="M662,436 L718,414 M663.5,437.8 L719.5,416 M665,439.5 L721,417.8"/>
<path stroke-width="2.6" stroke-dasharray="2.2 1.6" d="M669,435.5 L717,417"/>
<!-- tray -->
<path d="M592.4,483.5 L613.6,472.3 L646,484.7 L627.3,497.2 Z"/>
<path class="t" d="M597,483.5 L613.5,475.5 L641.5,485.5 L627,494.5 Z"/>
<path d="M607.5,479 L634,489.5 M601,485.5 l1,1 M624,493 l1,0.6"/>
</g>
<!-- boot 17 -->
<g id="p17">
<ellipse cx="867.1" cy="393.5" rx="6.3" ry="4.6" class="t"/>
<ellipse cx="867.1" cy="393" rx="3" ry="2.2" class="t"/>
<path class="t" d="M860.7,397.5 Q851.5,424.5 822.9,457.8"/>
<path class="t" d="M874.5,397.5 Q890,416 896.1,424.8 L905.1,439.8"/>
<path class="t" d="M822.9,458.3 L851.3,468.5 L905.1,439.8 L905.3,443 L851.5,472 L823,462 Z"/>
<path class="h" stroke-dasharray="4 3" d="M868.3,399.4 L851.3,466.7"/>
<path class="h" stroke-dasharray="3 4" d="M859.5,405 Q851,428 828,455.5"/>
<path class="h" stroke-dasharray="2 4" d="M826,457.5 L851,466.5 L902,439"/>
<path class="h" d="M881,416.9 Q875.5,421.5 875.5,426.1 L878.3,430.7 L876.8,435.4"/>
</g>
<!-- frame 13 -->
<g id="p13">
<ellipse cx="820.5" cy="505.5" rx="4.2" ry="2.6" class="t"/>
<ellipse cx="843.8" cy="515.8" rx="4.2" ry="2.5" class="t"/>
<path class="t w" d="M883,470.5 L885,468 L890,469.5 L889.5,472.5 Z"/>
<path class="t w" d="M822.5,500.5 L880,470.5 Q882.5,469.5 885,470.2 L903,475.5 Q905.5,473.2 909.5,473.8 Q913,475 912.5,478.3 Q911.5,481.5 906.5,481.5 L851,513.5 Q848.3,515 845.5,514 L823,505.5 Q820,503.5 822.5,500.5 Z"/>
<path d="M827,501.5 L880.5,473.5 L902.5,480 L848.5,510.5 Z"/>
<path class="h" d="M830.5,499.5 L880,472.3 M850,508.5 L900,482.5 M826,503.5 L848,512.5 L904,481.5"/>
<path class="t" d="M834,497 L878,475 Q879.7,474.2 881.5,474.8 L895.5,480.5 Q897.6,481.6 895.5,483 L850.5,506 Q848.3,507.1 846,506.3 L834,501 Q830.5,499 834,497 Z"/>
<ellipse cx="908.5" cy="477.5" rx="2.2" ry="1.6"/>
</g>
<!-- screws 34 -->
<g id="s34">
<path class="k" stroke-width="1" d="M909.1,493.5 L910.6,500 L907.6,500 Z"/>
<path class="k" stroke-width="1.2" d="M905.3,501.5 L909,499.5 L912.8,501.5 L912.8,505.3 L909,507.3 L905.3,505.3 Z"/>
<path stroke="#fff" stroke-width="0.9" d="M907.5,503 L910.5,503.5"/>
<path class="k" stroke-width="1" d="M820.8,514.8 L822.4,521.5 L819.4,521.5 Z"/>
<path class="k" stroke-width="1.2" d="M817.8,522.5 L821.5,520.5 L825.3,522.5 L825.3,526.3 L821.5,528.3 L817.8,526.3 Z"/>
<path stroke="#fff" stroke-width="0.9" d="M820,524 L823,524.5"/>
</g>
<!-- labels -->
<g id="labels">
<text x="53" y="102">18</text>
<text x="181.5" y="154.5">15</text>
<text x="180" y="184">28</text>
<text x="14" y="199">28</text>
<text x="239" y="160.5">16</text>
<text x="195" y="230.5">32</text>
<text x="6.5" y="254">12</text>
<text x="4" y="306">32</text>
<text x="152.3" y="368.4">10</text>
<text x="274.7" y="57.5">5</text>
<text x="343" y="88">4</text>
<text x="378.5" y="39.5">28</text>
<text x="403" y="60">1</text>
<text x="422.7" y="40.5">19</text>
<text x="488.5" y="42.5">24</text>
<text x="469" y="199.5">1</text>
<text x="486" y="220.5">28</text>
<text x="448.2" y="223">32</text>
<text x="447.7" y="261.7">30</text>
<text x="445.6" y="309.2">29</text>
<text x="428.6" y="348.3">20</text>
<text x="223.4" y="384.6">22</text>
<text x="250.1" y="393.8">21</text>
<text x="748.4" y="150.1">9</text>
<text x="791.2" y="75.4">26</text>
<text x="860.5" y="82.9">6</text>
<text x="1042.5" y="75.1">25</text>
<text x="1084.5" y="176.2">11</text>
<text x="1016.5" y="267.5">23</text>
<text x="955.5" y="266">2</text>
<text x="848.1" y="203.1">3</text>
<text x="722" y="236.2">14</text>
<text x="745.4" y="261.6">33</text>
<text x="587" y="275.3">12</text>
<text x="597.7" y="316.6">32</text>
<text x="792.5" y="371.3">30</text>
<text x="841.1" y="378.6">7</text>
<text x="906.2" y="329.5">31</text>
<text x="921.2" y="351.2">29</text>
<text x="947" y="352.5">32</text>
<text x="733.9" y="401.2">27</text>
<text x="591.9" y="457.8">8</text>
<text x="922.5" y="429.3">17</text>
<text x="927" y="483.7">13</text>
<text x="931" y="511.5">34</text>
<text x="787" y="533.5">34</text>
</g>
<!-- leaders -->
<g id="leaders" stroke-width="1.3">
<path d="M78,95 L95,96.5"/>
<path d="M160,148 L178,148"/>
<path d="M158,175.5 L179,175.5"/>
<path d="M37.5,192 L57,192.5"/>
<path d="M249,164.5 L249,174"/>
<path d="M219.5,224 L231,224"/>
<path d="M30,246 L45,246"/>
<path d="M29,301 L49,301"/>
<path d="M160.8,318.5 L160.8,353.4"/>
<path d="M280.5,61 L280.5,87.5"/>
<path d="M348.75,92.5 L348.75,121"/>
<path d="M388.75,43.75 L388.75,72.5"/>
<path d="M408.75,63.75 L408.75,83.75"/>
<path d="M431.25,45 L431.25,76.25"/>
<path d="M499.5,46.25 L499.5,78.75"/>
<path d="M474.25,167.5 L474.25,185"/>
<path d="M496.25,177.5 L496.25,203.75"/>
<path d="M428.75,216.25 L445,216.25"/>
<path d="M423.75,255.5 L443.75,255.5"/>
<path d="M455.3,286 L455.3,293.5"/>
<path d="M425.9,285.3 L425.9,320.9 L455.3,320.9 L455.3,313.4 M439.6,320.9 L439.6,329.6"/>
<path d="M236.9,353.4 L236.9,365.9"/>
<path d="M259.8,359.7 L259.8,375.9"/>
<path d="M753.1,113.5 L753.1,132.2"/>
<path d="M800.2,79.4 L800.2,92.3"/>
<path d="M866.5,86.9 L866.5,103.5"/>
<path d="M1053.7,80.6 L1053.7,100.2"/>
<path d="M1067.8,172.3 L1078,172.3"/>
<path d="M1025.8,227.1 L1025.8,250.6"/>
<path d="M934,260 L952.3,260"/>
<path d="M860.3,197.4 L881.6,198"/>
<path d="M745.7,230.4 L763.1,232.4"/>
<path d="M770.6,254.8 L776.8,254.8"/>
<path d="M609.4,269.8 L618.6,269.8"/>
<path d="M621.1,310.1 L627.4,310.1"/>
<path d="M774.3,363.4 L790.3,363.4"/>
<path d="M847.1,345.2 L847.1,361.9"/>
<path d="M895.5,323.5 L902.2,323.5"/>
<path d="M927.2,353.6 L927.2,360.3"/>
<path d="M952,356 L952,370"/>
<path d="M754.5,397.3 L761.1,397.7"/>
<path d="M606.1,452.3 L617.3,452.3"/>
<path d="M896.1,424.2 L915.6,424.2"/>
<path d="M912.6,477.8 L923,477.8"/>
<path d="M914.1,504.1 L926,504.1"/>
<path d="M810.3,525 L818.4,525"/>
</g>
</svg>
</body></html>
